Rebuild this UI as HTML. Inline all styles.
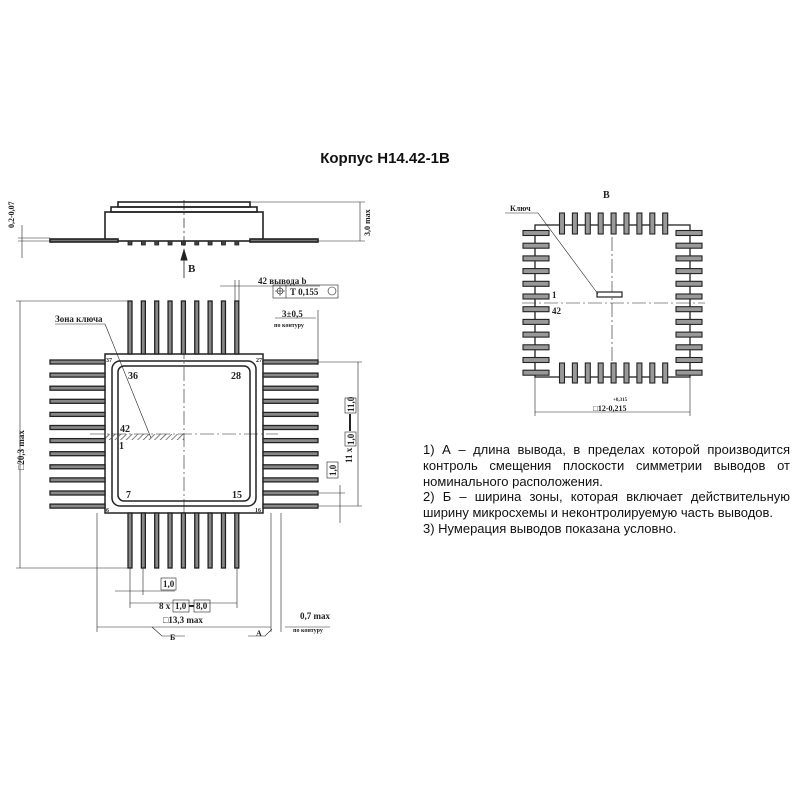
<!DOCTYPE html>
<html><head><meta charset="utf-8"><style>
html,body{margin:0;padding:0;background:#fff;width:800px;height:800px;overflow:hidden}
svg{position:absolute;left:0;top:0}
.t{font-family:"Liberation Serif",serif;font-weight:bold;fill:#222}
.notes{position:absolute;left:423px;top:442px;width:367px;font-family:"Liberation Sans",sans-serif;font-size:13px;line-height:15.8px;color:#111;text-align:justify}
.title{position:absolute;left:300px;top:150px;width:170px;text-align:center;font-family:"Liberation Sans",sans-serif;font-weight:bold;font-size:15px;color:#111}
</style></head><body>
<div class="title">Корпус Н14.42-1В</div>
<svg id="s" width="800" height="800" viewBox="0 0 800 800" stroke="#222" fill="none" stroke-width="1">
<defs><pattern id="h" width="4" height="4" patternUnits="userSpaceOnUse" patternTransform="rotate(45)"><line x1="0" y1="0" x2="0" y2="4" stroke="#555" stroke-width="1.5"/></pattern></defs>
<g stroke-width="1.6">
<rect x="118" y="202" width="132" height="5"/>
<rect x="111" y="207" width="146" height="5"/>
<rect x="105" y="212" width="158" height="29"/>
<rect x="50" y="239" width="68" height="3" fill="#777"/>
<rect x="250" y="239" width="68" height="3" fill="#777"/>
</g>
<g id="bumps"></g>
<line x1="184" y1="200" x2="184" y2="250" stroke-dasharray="10,3,2,3" stroke-width="0.7"/>
<line x1="250" y1="202" x2="365" y2="202" stroke-width="0.6"/>
<line x1="318" y1="241" x2="365" y2="241" stroke-width="0.6"/>
<line x1="360" y1="202" x2="360" y2="241" stroke-width="0.6"/>
<line x1="18" y1="241" x2="50" y2="241" stroke-width="0.6"/>
<line x1="18" y1="238" x2="50" y2="238" stroke-width="0.6"/>
<line x1="22" y1="225" x2="22" y2="258" stroke-width="0.6"/>
<text class="t" x="14" y="228" font-size="8" transform="rotate(-90 14 228)" stroke="none">0,2-0,07</text>
<text class="t" x="370" y="236" font-size="8" transform="rotate(-90 370 236)" stroke="none">3,0 max</text>
<line x1="184" y1="278" x2="184" y2="252" stroke-width="0.8"/>
<path d="M181,260 L184,250 L187,260Z" fill="#222"/>
<text class="t" x="188" y="272" font-size="11" stroke="none">B</text>
<g id="main" stroke-width="1.5">
<rect x="105" y="354" width="158" height="159" fill="#fff"/>
<rect x="112" y="361" width="144" height="145" rx="8"/>
<rect x="118" y="366" width="132" height="135" rx="6"/>
</g>
<rect x="105" y="434" width="79" height="6" fill="url(#h)" stroke="none"/>
<line x1="90" y1="434" x2="278" y2="434" stroke-dasharray="14,3,2,3" stroke-width="0.6"/>
<line x1="184" y1="345" x2="184" y2="520" stroke-dasharray="14,3,2,3" stroke-width="0.6"/>
<g id="leads"></g>
<g class="t" stroke="none" font-size="10">
<text x="128" y="379">36</text><text x="231" y="379">28</text>
<text x="120" y="432">42</text><text x="119" y="449">1</text>
<text x="126" y="498">7</text><text x="232" y="498">15</text>
<text x="106" y="362" font-size="6">37</text><text x="256" y="362" font-size="6">27</text>
<text x="106" y="512" font-size="6">6</text><text x="255" y="512" font-size="6">16</text>
<text x="55" y="322" font-size="9">Зона ключа</text>
<text x="258" y="284" font-size="9">42 вывода   b</text>
<text x="282" y="317" font-size="9">3±0,5</text>
<text x="274" y="327" font-size="6">по контуру</text>
<text x="24" y="470" font-size="9" transform="rotate(-90 24 470)">□20,3 max</text>
<text x="352" y="463" font-size="9" transform="rotate(-90 352 463)">11 x</text>
<text x="354" y="412" font-size="9" transform="rotate(-90 354 412)">11,0</text>
<text x="354" y="445" font-size="9" transform="rotate(-90 354 445)">1,0</text>
<text x="336" y="476" font-size="9" transform="rotate(-90 336 476)">1,0</text>
<text x="163" y="587" font-size="9">1,0</text>
<text x="159" y="609" font-size="9">8 x</text>
<text x="175" y="609" font-size="9">1,0</text><text x="196" y="609" font-size="9">8,0</text>
<text x="163" y="623" font-size="9">□13,3 max</text>
<text x="170" y="640" font-size="8">Б</text><text x="256" y="636" font-size="8">А</text>
<text x="300" y="619" font-size="9">0,7 max</text>
<text x="293" y="632" font-size="6">по контуру</text>
</g>
<g stroke-width="0.6">
<line x1="55" y1="324" x2="105" y2="324"/><line x1="105" y1="324" x2="151" y2="438"/>
<line x1="20" y1="301" x2="20" y2="568"/><line x1="16" y1="301" x2="130" y2="301"/><line x1="16" y1="568" x2="130" y2="568"/>
<rect x="273" y="285" width="65" height="13"/><line x1="286" y1="285" x2="286" y2="298"/>
<circle cx="280" cy="291" r="3"/><line x1="275" y1="291" x2="285" y2="291"/><line x1="280" y1="286" x2="280" y2="296"/>
<text x="290" y="295" class="t" stroke="none" font-size="9">T 0,155</text>
<circle cx="332" cy="291" r="4"/>
<line x1="220" y1="286" x2="320" y2="286"/><line x1="235" y1="280" x2="235" y2="301"/><line x1="239" y1="280" x2="239" y2="301"/>
<line x1="275" y1="318" x2="316" y2="318"/><line x1="318" y1="310" x2="318" y2="362"/>
<line x1="318" y1="362" x2="362" y2="362"/><line x1="318" y1="506" x2="362" y2="506"/>
<line x1="358" y1="362" x2="358" y2="506"/>
<rect x="345" y="398" width="11" height="15"/><rect x="345" y="432" width="11" height="14"/>
<line x1="350" y1="414" x2="350" y2="431" stroke-width="2"/>
<rect x="327" y="462" width="11" height="16"/>
<line x1="340" y1="485" x2="340" y2="523"/><line x1="318" y1="493" x2="345" y2="493"/>
<line x1="97" y1="513" x2="97" y2="632"/><line x1="271" y1="513" x2="271" y2="632"/><line x1="281" y1="513" x2="281" y2="632"/>
<line x1="97" y1="627" x2="271" y2="627"/><line x1="285" y1="627" x2="330" y2="627"/>
<line x1="130" y1="568" x2="130" y2="608"/><line x1="143" y1="568" x2="143" y2="595"/><line x1="237" y1="568" x2="237" y2="608"/>
<line x1="115" y1="591" x2="175" y2="591"/><line x1="130" y1="603" x2="237" y2="603"/>
<rect x="161" y="578" width="15" height="12"/><rect x="173" y="600" width="16" height="12"/><rect x="194" y="600" width="16" height="12"/>
<line x1="189" y1="606" x2="194" y2="606" stroke-width="2"/>
<path d="M152,627 L162,636 L185,636"/><path d="M272,629 L265,636 L248,636"/>
</g>
<rect x="535" y="225" width="155" height="152" stroke-width="1.3"/>
<line x1="522" y1="303" x2="705" y2="303" stroke-dasharray="14,3,2,3" stroke-width="0.6"/>
<line x1="612" y1="215" x2="612" y2="385" stroke-dasharray="14,3,2,3" stroke-width="0.6"/>
<g id="rl"></g>
<rect x="597" y="292" width="25" height="5" fill="#fff" stroke-width="1.2"/>
<line x1="505" y1="213" x2="538" y2="213" stroke-width="0.6"/><line x1="538" y1="213" x2="598" y2="294" stroke-width="0.6"/>
<g class="t" stroke="none">
<text x="603" y="198" font-size="10">B</text>
<text x="510" y="211" font-size="8">Ключ</text>
<text x="552" y="298" font-size="9">1</text><text x="552" y="314" font-size="9">42</text>
<text x="613" y="401" font-size="5">+0,315</text>
<text x="593" y="411" font-size="8">□12-0,215</text>
</g>
<g stroke-width="0.6">
<line x1="535" y1="377" x2="535" y2="416"/><line x1="690" y1="377" x2="690" y2="416"/>
<line x1="535" y1="412" x2="690" y2="412"/>
</g>
</svg>
<div class="notes">1) А – длина вывода, в пределах которой производится контроль смещения плоскости симметрии выводов от номинального расположения.<br>2) Б – ширина зоны, которая включает действительную ширину микросхемы и неконтролируемую часть выводов.<br>3) Нумерация выводов показана условно.</div>
<script>
var NS="http://www.w3.org/2000/svg";
function r(g,x,y,w,h,f,sw){var e=document.createElementNS(NS,"rect");e.setAttribute("x",x);e.setAttribute("y",y);e.setAttribute("width",w);e.setAttribute("height",h);e.setAttribute("fill",f);e.setAttribute("stroke-width",sw);document.getElementById(g).appendChild(e);}
for(var i=0;i<9;i++){var x=130+i*13.35;r("bumps",x-2,241,4,4,"#444",0.8);r("leads",x-2,301,4,53,"#888",1.3);r("leads",x-2,513,4,55,"#888",1.3);}
for(var i=0;i<12;i++){var y=362+i*13.1;r("leads",50,y-2,55,4,"#888",1.3);r("leads",263,y-2,55,4,"#888",1.3);}
for(var i=0;i<9;i++){var x=562+i*12.9;r("rl",x-2.5,213,5,21,"#999",1.1);r("rl",x-2.5,363,5,20,"#999",1.1);}
for(var i=0;i<12;i++){var y=233+i*12.7;r("rl",523,y-2.5,26,5,"#999",1.1);r("rl",676,y-2.5,26,5,"#999",1.1);}
</script>
</body></html>
